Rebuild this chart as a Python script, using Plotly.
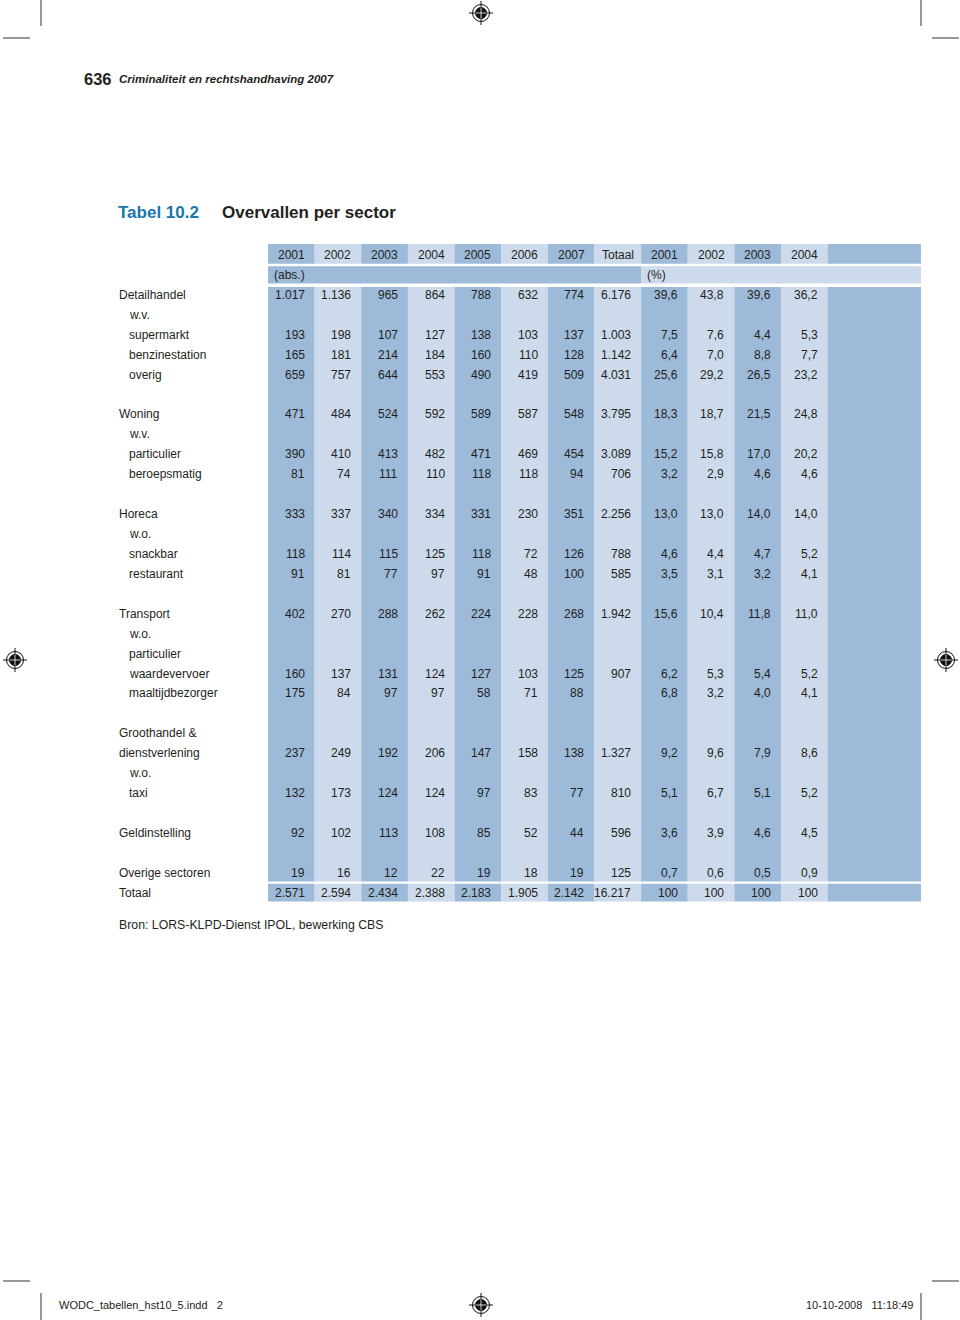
import plotly.graph_objects as go

# ---------------- data ----------------
col_headers = ["2001", "2002", "2003", "2004", "2005", "2006", "2007", "Totaal",
               "2001", "2002", "2003", "2004"]

row_labels = ["Detailhandel", "w.v.", "supermarkt", "benzinestation", "overig", "",
              "Woning", "w.v.", "particulier", "beroepsmatig", "",
              "Horeca", "w.o.", "snackbar", "restaurant", "",
              "Transport", "w.o.", "particulier", "waardevervoer", "maaltijdbezorger", "",
              "Groothandel &", "dienstverlening", "w.o.", "taxi", "",
              "Geldinstelling", "", "Overige sectoren", "Totaal"]
row_indent = [0, 1, 1, 1, 1, 0,
              0, 1, 1, 1, 0,
              0, 1, 1, 1, 0,
              0, 1, 1, 1, 1, 0,
              0, 0, 1, 1, 0,
              0, 0, 0, 0]

v_detailhandel = ["1.017", "1.136", "965", "864", "788", "632", "774", "6.176", "39,6", "43,8", "39,6", "36,2"]
v_supermarkt = ["193", "198", "107", "127", "138", "103", "137", "1.003", "7,5", "7,6", "4,4", "5,3"]
v_benzinestation = ["165", "181", "214", "184", "160", "110", "128", "1.142", "6,4", "7,0", "8,8", "7,7"]
v_overig = ["659", "757", "644", "553", "490", "419", "509", "4.031", "25,6", "29,2", "26,5", "23,2"]
v_woning = ["471", "484", "524", "592", "589", "587", "548", "3.795", "18,3", "18,7", "21,5", "24,8"]
v_particulier = ["390", "410", "413", "482", "471", "469", "454", "3.089", "15,2", "15,8", "17,0", "20,2"]
v_beroepsmatig = ["81", "74", "111", "110", "118", "118", "94", "706", "3,2", "2,9", "4,6", "4,6"]
v_horeca = ["333", "337", "340", "334", "331", "230", "351", "2.256", "13,0", "13,0", "14,0", "14,0"]
v_snackbar = ["118", "114", "115", "125", "118", "72", "126", "788", "4,6", "4,4", "4,7", "5,2"]
v_restaurant = ["91", "81", "77", "97", "91", "48", "100", "585", "3,5", "3,1", "3,2", "4,1"]
v_transport = ["402", "270", "288", "262", "224", "228", "268", "1.942", "15,6", "10,4", "11,8", "11,0"]
v_waardevervoer = ["160", "137", "131", "124", "127", "103", "125", "907", "6,2", "5,3", "5,4", "5,2"]
v_maaltijdbezorger = ["175", "84", "97", "97", "58", "71", "88", "", "6,8", "3,2", "4,0", "4,1"]
v_groothandel = ["237", "249", "192", "206", "147", "158", "138", "1.327", "9,2", "9,6", "7,9", "8,6"]
v_taxi = ["132", "173", "124", "124", "97", "83", "77", "810", "5,1", "6,7", "5,1", "5,2"]
v_geldinstelling = ["92", "102", "113", "108", "85", "52", "44", "596", "3,6", "3,9", "4,6", "4,5"]
v_overige = ["19", "16", "12", "22", "19", "18", "19", "125", "0,7", "0,6", "0,5", "0,9"]
v_totaal = ["2.571", "2.594", "2.434", "2.388", "2.183", "1.905", "2.142", "16.217", "100", "100", "100", "100"]

E = [""] * 12
row_values = [v_detailhandel, E, v_supermarkt, v_benzinestation, v_overig, E,
              v_woning, E, v_particulier, v_beroepsmatig, E,
              v_horeca, E, v_snackbar, v_restaurant, E,
              v_transport, E, E, v_waardevervoer, v_maaltijdbezorger, E,
              E, v_groothandel, E, v_taxi, E,
              v_geldinstelling, E, v_overige, v_totaal]

# ---------------- style ----------------
DARK = "#9dbad9"
LIGHT = "#cddaeb"
TXT = "#231f20"
FONT = "Liberation Sans, Arial, sans-serif"
W, H = 960, 1320
X0, CW = 268.0, 46.64      # table left edge / column width (px)
Y0, RH = 255.0, 19.93      # header row centre / row pitch (px)
N_COLS = len(col_headers)
FIRST_BODY = 2             # body rows start at row index 2

fig = go.Figure()
fig.add_trace(go.Scatter(x=[0], y=[0], mode="markers", marker=dict(opacity=0),
                         hoverinfo="skip", showlegend=False))

shapes = []
ann = []


def rect(x0, x1, y0, y1, color):
    shapes.append(dict(type="rect", xref="x", yref="y", x0=x0, x1=x1, y0=y0, y1=y1,
                       fillcolor=color, line=dict(width=0), layer="below"))


def col_color(i):
    return DARK if i % 2 == 0 else LIGHT


n_rows = len(row_labels)
last_body = FIRST_BODY + n_rows - 2          # Overige sectoren
tot_row = FIRST_BODY + n_rows - 1            # Totaal
g = 0.065
bands = [(-0.55, 0.5 - g), (0.5 + g, 1.5 - g), (1.5 + 0.1, last_body + 0.5 - g),
         (last_body + 0.5 + 0.05, tot_row + 0.5 - g)]

for bi, (b0, b1) in enumerate(bands):
    if bi == 1:
        rect(0, 8, b0, b1, DARK)
        rect(8, N_COLS + 2, b0, b1, LIGHT)
        continue
    for i in range(N_COLS):
        rect(i, i + 1, b0, b1, col_color(i))
    rect(N_COLS, N_COLS + 2, b0, b1, DARK)

# header texts
for i, h in enumerate(col_headers):
    ann.append(dict(x=i + 0.5, y=0, text=h, xanchor="center"))
ann.append(dict(x=0.13, y=1, text="(abs.)", xanchor="left"))
ann.append(dict(x=8.13, y=1, text="(%)", xanchor="left"))

# body
lab_x0 = (119 - X0) / CW
lab_x1 = (129 - X0) / CW
for k, (lab, ind, vals) in enumerate(zip(row_labels, row_indent, row_values)):
    r = FIRST_BODY + k
    if lab:
        ann.append(dict(x=lab_x1 if ind else lab_x0, y=r, text=lab, xanchor="left"))
    for i, v in enumerate(vals):
        if v:
            ann.append(dict(x=i + 1 - 0.215, y=r, text=v, xanchor="right"))

for a in ann:
    a.update(xref="x", yref="y", showarrow=False, yanchor="middle",
             borderpad=0, borderwidth=0,
             font=dict(family=FONT, size=12, color=TXT))


# -------- page furniture (paper coordinates) --------
def px(x):
    return x / W


def py(y):
    return 1 - y / H


def ptext(x, y, text, size, anchor="left", color=TXT, family=FONT):
    ann.append(dict(xref="paper", yref="paper", x=px(x), y=py(y), text=text, showarrow=False,
                    xanchor=anchor, yanchor="middle", borderpad=0, borderwidth=0,
                    font=dict(family=family, size=size, color=color)))


def pline(x0, y0, x1, y1, w=1, color="#333333"):
    shapes.append(dict(type="line", xref="paper", yref="paper", x0=px(x0), y0=py(y0),
                       x1=px(x1), y1=py(y1), line=dict(color=color, width=w)))


def pcircle(cx, cy, r, fill=None, line_color="#111111", w=1):
    shapes.append(dict(type="circle", xref="paper", yref="paper", x0=px(cx - r), x1=px(cx + r),
                       y0=py(cy + r), y1=py(cy - r), fillcolor=fill if fill else "rgba(0,0,0,0)",
                       line=dict(color=line_color, width=w)))


def regmark(cx, cy):
    pline(cx - 12, cy, cx + 12, cy, 1, "#111111")
    pline(cx, cy - 12, cx, cy + 12, 1, "#111111")
    pcircle(cx, cy, 8.5, None, "#111111", 1)
    pcircle(cx, cy, 5.5, "#111111", "#111111", 1)
    pline(cx - 5.5, cy, cx + 5.5, cy, 0.8, "#ffffff")
    pline(cx, cy - 5.5, cx, cy + 5.5, 0.8, "#ffffff")


# crop marks
pline(41, 0, 41, 26)
pline(921, 0, 921, 26)
pline(3, 38, 30, 38)
pline(932, 38, 959, 38)
pline(3, 1281, 30, 1281)
pline(932, 1281, 959, 1281)
pline(41, 1293, 41, 1320)
pline(921, 1293, 921, 1320)

regmark(481, 13)
regmark(15, 660)
regmark(946, 660)
regmark(481, 1305)

# running header
ptext(84, 79, "<b>636</b>", 16.5)
ptext(119, 79, "<b><i>Criminaliteit en rechtshandhaving 2007</i></b>", 11.5)

# title
ptext(118, 212, "<b>Tabel 10.2</b>", 17, color="#1777ab")
ptext(222, 212, "<b>Overvallen per sector</b>", 17)

# source
ptext(119, 925, "Bron: LORS-KLPD-Dienst IPOL, bewerking CBS", 12.3)

# footer
ptext(59, 1305, "WODC_tabellen_hst10_5.indd   2", 11)
ptext(913, 1305, "10-10-2008   11:18:49", 11, anchor="right")

fig.update_layout(
    width=W, height=H, autosize=False,
    margin=dict(l=0, r=0, t=0, b=0),
    paper_bgcolor="white", plot_bgcolor="white",
    showlegend=False,
    xaxis=dict(range=[(0 - X0) / CW, (W - X0) / CW], visible=False, showgrid=False,
               zeroline=False, fixedrange=True),
    yaxis=dict(range=[(H - Y0) / RH, (0 - Y0) / RH], visible=False, showgrid=False,
               zeroline=False, fixedrange=True),
    shapes=shapes,
    annotations=ann,
)

fig.write_html("out.html", config={"displayModeBar": False},
               post_script="document.body.style.margin='0';document.body.style.overflow='hidden';")
